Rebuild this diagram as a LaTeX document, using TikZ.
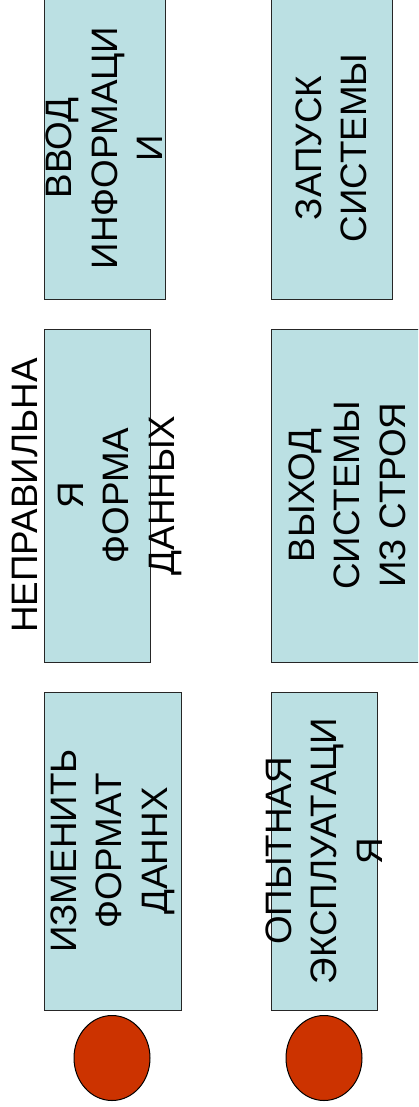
\documentclass[tikz,border=0pt]{standalone}
\usepackage{fontspec}
\setmainfont{Liberation Sans}
\usetikzlibrary{shapes.geometric}
\definecolor{boxfill}{HTML}{BBE0E3}
\definecolor{dotfill}{HTML}{CC3300}
\begin{document}
\begin{tikzpicture}[x=1pt,y=1pt,
  box/.style={rectangle, draw=black!85, line width=1pt, fill=boxfill, inner sep=0pt},
  lbl/.style={rotate=90, align=center, inner sep=0pt, text=black,
    font=\fontsize{36.8}{45.5}\selectfont},
  dot/.style={ellipse, draw=black, line width=1pt, fill=dotfill, inner sep=0pt,
    minimum width=76pt, minimum height=85pt}]
\useasboundingbox (0,0) rectangle (418,-1107);
\clip (0,0) rectangle (418,-1107);
\node[box, minimum width=121pt, minimum height=302pt] (b1) at (104.5,-148) {};
\node[box, minimum width=121pt, minimum height=302pt] (b2) at (331.5,-148) {};
\node[box, minimum width=106pt, minimum height=333pt] (b3) at (97,-495.5) {};
\node[box, minimum width=152pt, minimum height=333pt] (b4) at (347,-495.5) {};
\node[box, minimum width=137pt, minimum height=318pt] (b5) at (112.5,-851) {};
\node[box, minimum width=106pt, minimum height=318pt] (b6) at (324,-851) {};
\node[dot] (d1) at (112,-1058) {};
\node[dot] (d2) at (324,-1058) {};
\node[lbl] (t1) at (b1.center) {ВВОД\\ИНФОРМАЦИ\\И};
\node[lbl] (t2) at (b2.center) {ЗАПУСК\\СИСТЕМЫ};
\node[lbl] (t3) at (b3.center) {НЕПРАВИЛЬНА\\Я\\ФОРМА\\ДАННЫХ};
\node[lbl] (t4) at (b4.center) {ВЫХОД\\СИСТЕМЫ\\ИЗ СТРОЯ};
\node[lbl] (t5) at (b5.center) {ИЗМЕНИТЬ\\ФОРМАТ\\ДАННХ};
\node[lbl] (t6) at (b6.center) {ОПЫТНАЯ\\ЭКСПЛУАТАЦИ\\Я};
\end{tikzpicture}
\end{document}
